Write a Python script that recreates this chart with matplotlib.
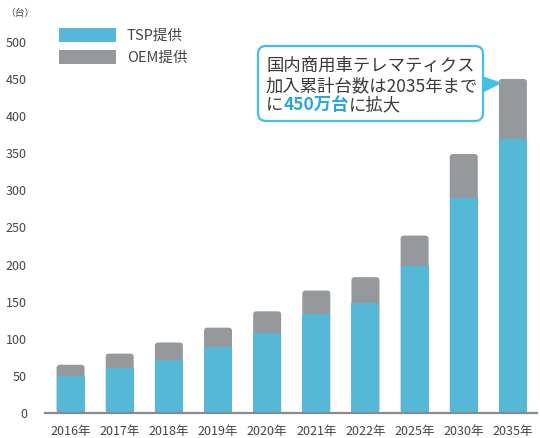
import matplotlib
matplotlib.use('Agg')
import matplotlib.pyplot as plt
from matplotlib.patches import FancyBboxPatch, Polygon, Patch
from matplotlib.transforms import IdentityTransform
import numpy as np

plt.rcParams['font.family'] = ['Noto Sans CJK JP', 'DejaVu Sans']

# data
years = ['2016年', '2017年', '2018年', '2019年', '2020年',
         '2021年', '2022年', '2025年', '2030年', '2035年']
tsp = [50, 60, 72, 89, 108, 134, 148, 198, 289, 369]
oem = [15, 20, 23, 26, 29, 31, 35, 41, 60, 81]
yticks = [0, 50, 100, 150, 200, 250, 300, 350, 400, 450, 500]
legend_labels = ['TSP提供', 'OEM提供']

blue = '#55b8d6'
gray = '#96999c'
cyan = '#45bfe6'
txt = '#444444'

W, H = 540, 438
fig = plt.figure(figsize=(W / 100, H / 100), dpi=100)
ax = fig.add_axes([45 / W, 25 / H, 492 / W, 386 / H])

def px(x, y):
    return (x / W, 1 - y / H)

x = np.arange(len(years))
total = np.array(tsp) + np.array(oem)
bw = 0.57
ymax = 520
x0, x1 = -0.52, 9.49
ax.set_xlim(x0, x1)
ax.set_ylim(0, ymax)

# rounded top corners on the stacked bars
aspect = (492 / (x1 - x0)) / (386 / ymax)
for xi, t in zip(x, total):
    ax.add_patch(FancyBboxPatch((xi - bw / 2, 0), bw, t,
                                boxstyle='round,pad=0,rounding_size=0.07',
                                mutation_aspect=aspect, fc=gray, ec='none', zorder=1))
ax.bar(x, tsp, bw, color=blue, zorder=2)

for s in ['top', 'right', 'left']:
    ax.spines[s].set_visible(False)
ax.spines['bottom'].set_color('#8a8a8a')
ax.spines['bottom'].set_linewidth(1.6)
ax.spines['bottom'].set_zorder(3)

ax.set_yticks(yticks)
ax.set_xticks(x)
ax.set_xticklabels(years)
ax.tick_params(axis='y', length=0, pad=13, labelsize=9, labelcolor=txt)
ax.tick_params(axis='x', length=0, pad=9, labelsize=9, labelcolor=txt)

fig.text(*px(20, 13), '（台）', fontsize=7, color=txt, ha='center', va='center')

fig.legend(handles=[Patch(fc=blue), Patch(fc=gray)], labels=legend_labels,
           loc='upper left', bbox_to_anchor=px(59, 28), frameon=False,
           handlelength=3.9, handleheight=1.05, labelspacing=0.5,
           handletextpad=0.75, borderpad=0, borderaxespad=0,
           fontsize=10.5, labelcolor=txt)

# callout box
fig.add_artist(FancyBboxPatch((258, H - 121), 225, 75,
                              boxstyle='round,pad=0,rounding_size=8',
                              transform=IdentityTransform(),
                              fc='white', ec=cyan, lw=1.6))
fig.add_artist(Polygon([(482, H - 76), (502, H - 83), (482, H - 93)],
                       closed=True, transform=IdentityTransform(),
                       fc=cyan, ec='none'))

fs = 12.5
ink = '#3a3a3a'
fig.text(*px(266, 66), '国内商用車テレマティクス', fontsize=fs, color=ink, va='center')
fig.text(*px(266, 86), '加入累計台数は2035年まで', fontsize=fs, color=ink, va='center')

# last line: mixed colours, pieces placed one after another
renderer = fig.canvas.get_renderer()
xpos = 266
pieces = [('に', ink, 'normal'), ('450万台', '#2aa6dc', 'bold'), ('に拡大', ink, 'normal')]
for s, c, w in pieces:
    t = fig.text(xpos / W, 1 - 105 / H, s, fontsize=fs, color=c, fontweight=w, va='center')
    xpos += t.get_window_extent(renderer).width

fig.savefig('out.png', dpi=100)
